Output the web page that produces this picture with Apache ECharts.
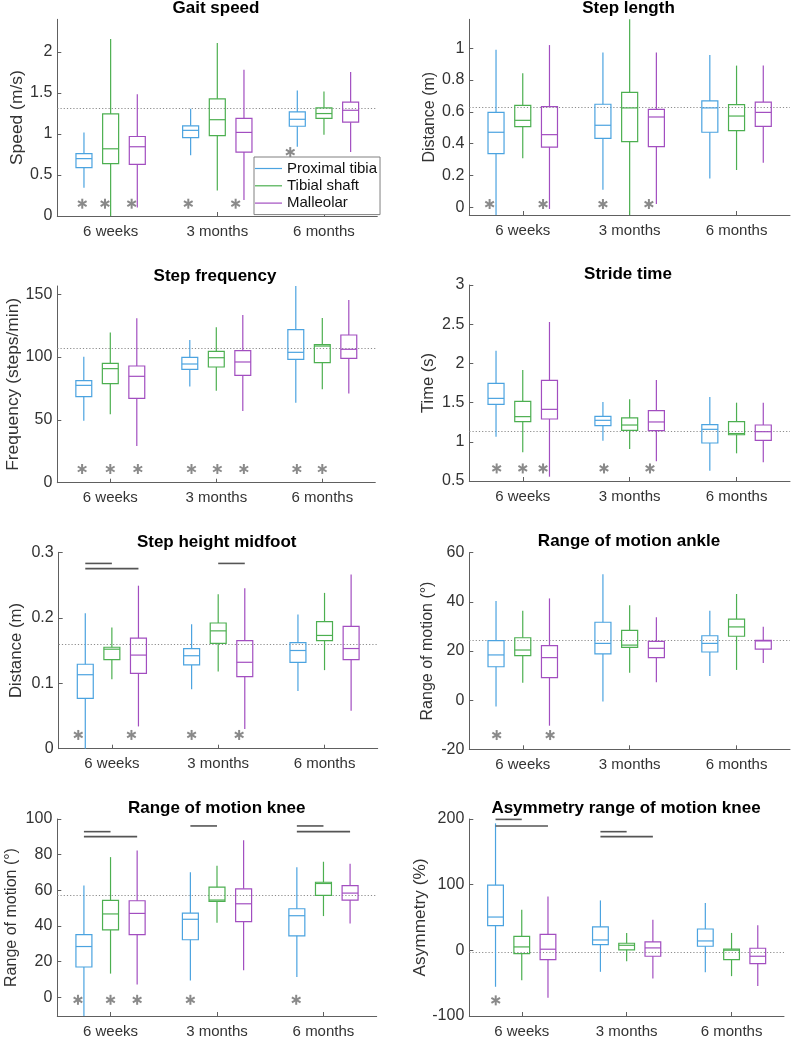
<!DOCTYPE html>
<html><head><meta charset="utf-8">
<script src="https://cdn.jsdelivr.net/npm/echarts@6/dist/echarts.min.js"></script>
<style>html,body{margin:0;padding:0;background:#fff}#chart{width:792px;height:1039px}</style>
</head><body><div id="chart"></div>
<script>
// ---------- data ----------
const categories = ['6 weeks', '3 months', '6 months'];
const groups = ['Proximal tibia', 'Tibial shaft', 'Malleolar'];

// each box: [min, Q1, median, Q3, max]; order: [6 weeks, 3 months, 6 months]
const gaitSpeedProximal = [[0.345, 0.59, 0.70, 0.76, 1.02], [0.74, 0.957, 1.045, 1.10, 1.31], [0.845, 1.095, 1.18, 1.27, 1.53]];
const gaitSpeedShaft    = [[0, 0.64, 0.82, 1.245, 2.16], [0.31, 0.98, 1.175, 1.43, 2.11], [0.99, 1.19, 1.25, 1.32, 1.52]];
const gaitSpeedMalleolar= [[0.105, 0.63, 0.845, 0.97, 1.485], [0.195, 0.78, 1.02, 1.19, 1.785], [0.78, 1.145, 1.29, 1.39, 1.757]];
const gaitSpeedRef = 1.32;
const gaitSpeedTicks = [0, 0.5, 1, 1.5, 2];
// stars: [category, x shift (category units), y]
const gaitSpeedStars = [[0, -0.266, 0.15], [0, -0.053, 0.15], [0, 0.197, 0.15], [1, -0.272, 0.15], [1, 0.172, 0.15], [2, -0.316, 0.78]];
const gaitSpeedBars = [];

const stepLengthProximal = [[-0.048, 0.338, 0.472, 0.597, 0.99], [0.111, 0.434, 0.516, 0.648, 0.973], [0.182, 0.472, 0.625, 0.669, 0.958]];
const stepLengthShaft    = [[0.308, 0.507, 0.547, 0.641, 0.843], [-0.048, 0.413, 0.625, 0.723, 1.182], [0.235, 0.482, 0.574, 0.646, 0.891]];
const stepLengthMalleolar= [[-0.01, 0.379, 0.457, 0.633, 1.02], [0.021, 0.382, 0.568, 0.616, 0.973], [0.281, 0.509, 0.597, 0.662, 0.891]];
const stepLengthRef = 0.633;
const stepLengthTicks = [0, 0.2, 0.4, 0.6, 0.8, 1];
const stepLengthStars = [[0, -0.31, 0.021], [0, 0.19, 0.021], [1, -0.25, 0.021], [1, 0.18, 0.021]];
const stepLengthBars = [];

const stepFreqProximal = [[49.4, 68.5, 77.5, 81.2, 100.3], [76.5, 90.3, 94.5, 99.8, 113.6], [63.7, 98.2, 103.8, 121.8, 156.6]];
const stepFreqShaft    = [[54.4, 78.8, 90.8, 95.0, 119.5], [73.3, 92.1, 99.5, 104.6, 123.7], [74.3, 95.6, 108.8, 109.9, 131.1]];
const stepFreqMalleolar= [[29.2, 67.2, 84.7, 92.9, 130.9], [57.1, 85.5, 96.1, 105.1, 133.5], [71.1, 99.0, 106.2, 117.6, 145.5]];
const stepFreqRef = 106.7;
const stepFreqTicks = [0, 50, 100, 150];
const stepFreqStars = [[0, -0.266, 10.9], [0, 0, 10.9], [0, 0.26, 10.9], [1, -0.234, 10.9], [1, 0.01, 10.9], [1, 0.26, 10.9], [2, -0.24, 10.9], [2, 0, 10.9]];
const stepFreqBars = [];

const strideTimeProximal = [[1.065, 1.478, 1.554, 1.746, 2.162], [1.014, 1.206, 1.274, 1.325, 1.508], [0.632, 0.985, 1.159, 1.219, 1.571]];
const strideTimeShaft    = [[0.866, 1.257, 1.321, 1.516, 1.916], [0.908, 1.146, 1.214, 1.304, 1.542], [0.853, 1.09, 1.105, 1.257, 1.499]];
const strideTimeMalleolar= [[0.555, 1.291, 1.414, 1.784, 2.528], [0.751, 1.142, 1.253, 1.397, 1.788], [0.738, 1.019, 1.129, 1.214, 1.499]];
const strideTimeRef = 1.138;
const strideTimeTicks = [0.5, 1, 1.5, 2, 2.5, 3];
const strideTimeStars = [[0, -0.244, 0.66], [0, 0, 0.66], [0, 0.19, 0.66], [1, -0.24, 0.66], [1, 0.19, 0.66]];
const strideTimeBars = [];

const stepHeightProximal = [[0, 0.077, 0.113, 0.129, 0.207], [0.091, 0.128, 0.142, 0.153, 0.19], [0.088, 0.132, 0.150, 0.162, 0.205]];
const stepHeightShaft    = [[0.106, 0.136, 0.152, 0.155, 0.185], [0.118, 0.161, 0.180, 0.192, 0.236], [0.120, 0.165, 0.173, 0.194, 0.238]];
const stepHeightMalleolar= [[0.034, 0.115, 0.143, 0.169, 0.249], [0.030, 0.110, 0.132, 0.165, 0.245], [0.058, 0.136, 0.153, 0.187, 0.266]];
const stepHeightRef = 0.159;
const stepHeightTicks = [0, 0.1, 0.2, 0.3];
const stepHeightStars = [[0, -0.316, 0.021], [0, 0.184, 0.021], [1, -0.25, 0.021], [1, 0.197, 0.021]];
// bars: [category, from group, to group, y]
const stepHeightBars = [[0, 0, 1, 0.283], [0, 0, 2, 0.275], [1, 1, 2, 0.283]];

const romAnkleProximal = [[-2.6, 13.6, 18.4, 24.2, 40.3], [-0.6, 18.8, 23.1, 31.7, 51.2], [9.8, 19.6, 23.1, 26.2, 36.4]];
const romAnkleShaft    = [[7.1, 18.1, 20.4, 25.4, 36.4], [11.2, 21.5, 22.4, 28.4, 38.6], [12.3, 26.0, 29.8, 33.0, 43.2]];
const romAnkleMalleolar= [[-10.4, 9.2, 17.3, 22.2, 41.4], [7.3, 17.3, 21.1, 23.9, 33.7], [15.1, 20.8, 24.1, 24.3, 29.9]];
const romAnkleRef = 24.2;
const romAnkleTicks = [-20, 0, 20, 40, 60];
const romAnkleStars = [[0, -0.244, -14.2], [0, 0.256, -14.2]];
const romAnkleBars = [];

const romKneeProximal = [[-10.6, 16.9, 28.4, 35.1, 62.6], [9.3, 32.2, 43.7, 47.2, 70.1], [11.3, 34.4, 45.7, 49.6, 72.9]];
const romKneeShaft    = [[13.2, 37.7, 46.7, 54.3, 78.6], [41.8, 53.7, 54.5, 61.7, 73.8], [45.5, 57.1, 63.8, 64.5, 76.0]];
const romKneeMalleolar= [[7.1, 35.1, 47.0, 54.1, 82.3], [15.1, 42.4, 52.4, 60.8, 88.1], [41.3, 54.5, 58.4, 62.6, 74.9]];
const romKneeRef = 57.2;
const romKneeTicks = [0, 20, 40, 60, 80, 100];
const romKneeStars = [[0, -0.306, -1.5], [0, 0, -1.5], [0, 0.25, -1.5], [1, -0.25, -1.5], [2, -0.256, -1.5]];
const romKneeBars = [[0, 0, 1, 92.9], [0, 0, 2, 90.1], [1, 0, 1, 96.1], [2, 0, 1, 96.1], [2, 0, 2, 92.9]];

const asymKneeProximal = [[-55.5, 37.6, 50.7, 99.3, 193.4], [-32.7, 8.8, 15.8, 35.6, 76.0], [-33.2, 6.2, 14.3, 32.5, 72.0]];
const asymKneeShaft    = [[-45.4, -4.9, 5.2, 21.4, 61.9], [-16.5, 0.7, 7.7, 10.8, 26.5], [-39.3, -14.0, 0.2, 1.7, 26.5]];
const asymKneeMalleolar= [[-72.2, -14.0, 1.7, 24.4, 82.1], [-42.8, -9.0, 3.7, 12.8, 46.7], [-54.5, -20.1, -9.0, 3.2, 38.1]];
const asymKneeRef = -2.9;
const asymKneeTicks = [-100, 0, 100, 200];
const asymKneeStars = [[0, -0.248, -76.2]];
const asymKneeBars = [[0, 0, 1, 199.4], [0, 0, 2, 189.3], [1, 0, 1, 180.7], [1, 0, 2, 173.1]];

// ---------- layout / style ----------
const FONT = "'Liberation Sans', Arial, Helvetica, sans-serif";
const COLORS = ['#4ba3e0', '#4caf50', '#a24ec0'];
const AXIS_COLOR = '#606060';

const panels = [
  {title: 'Gait speed', yName: 'Speed (m/s)', boxes: [gaitSpeedProximal, gaitSpeedShaft, gaitSpeedMalleolar], ref: gaitSpeedRef, ticks: gaitSpeedTicks, stars: gaitSpeedStars, bars: gaitSpeedBars,
   yMin: 0, yMax: 2.4, grid: {left: 57.3, top: 19.3, width: 320, height: 196.7}, nameGap: 32, nameSize: 17.4, tx: 216, ty: 8.5},
  {title: 'Step length', yName: 'Distance (m)', boxes: [stepLengthProximal, stepLengthShaft, stepLengthMalleolar], ref: stepLengthRef, ticks: stepLengthTicks, stars: stepLengthStars, bars: stepLengthBars,
   yMin: -0.048, yMax: 1.182, grid: {left: 469.3, top: 19.3, width: 320.7, height: 195.7}, nameGap: 32, nameSize: 16, tx: 628.5, ty: 8.5},
  {title: 'Step frequency', yName: 'Frequency (steps/min)', boxes: [stepFreqProximal, stepFreqShaft, stepFreqMalleolar], ref: stepFreqRef, ticks: stepFreqTicks, stars: stepFreqStars, bars: stepFreqBars,
   yMin: 0, yMax: 156.6, grid: {left: 57.3, top: 286, width: 318, height: 196.7}, nameGap: 34.5, nameSize: 17.4, tx: 215, ty: 276},
  {title: 'Stride time', yName: 'Time (s)', boxes: [strideTimeProximal, strideTimeShaft, strideTimeMalleolar], ref: strideTimeRef, ticks: strideTimeTicks, stars: strideTimeStars, bars: strideTimeBars,
   yMin: 0.5, yMax: 3, grid: {left: 469.3, top: 285, width: 320.7, height: 196}, nameGap: 32, nameSize: 16.5, tx: 628, ty: 274},
  {title: 'Step height midfoot', yName: 'Distance (m)', boxes: [stepHeightProximal, stepHeightShaft, stepHeightMalleolar], ref: stepHeightRef, ticks: stepHeightTicks, stars: stepHeightStars, bars: stepHeightBars,
   yMin: 0, yMax: 0.3, grid: {left: 58.7, top: 552.3, width: 319, height: 196.4}, nameGap: 33.5, nameSize: 16.8, tx: 216.7, ty: 542.3},
  {title: 'Range of motion ankle', yName: 'Range of motion (°)', boxes: [romAnkleProximal, romAnkleShaft, romAnkleMalleolar], ref: romAnkleRef, ticks: romAnkleTicks, stars: romAnkleStars, bars: romAnkleBars,
   yMin: -20, yMax: 60, grid: {left: 469.3, top: 552.7, width: 320.7, height: 196.6}, nameGap: 34, nameSize: 16, tx: 629, ty: 541.5},
  {title: 'Range of motion knee', yName: 'Range of motion (°)', boxes: [romKneeProximal, romKneeShaft, romKneeMalleolar], ref: romKneeRef, ticks: romKneeTicks, stars: romKneeStars, bars: romKneeBars,
   yMin: -10.6, yMax: 100, grid: {left: 57.3, top: 819, width: 319.4, height: 198.3}, nameGap: 37.5, nameSize: 16, tx: 216.7, ty: 808.3},
  {title: 'Asymmetry range of motion knee', yName: 'Asymmetry (%)', boxes: [asymKneeProximal, asymKneeShaft, asymKneeMalleolar], ref: asymKneeRef, ticks: asymKneeTicks, stars: asymKneeStars, bars: asymKneeBars,
   yMin: -100, yMax: 200, grid: {left: 469.3, top: 819, width: 314.7, height: 197.7}, nameGap: 38.5, nameSize: 17.3, tx: 626, ty: 808.3}
];

function boxRenderer(offset, color) {
  return function (params, api) {
    const cat = api.value(0);
    const band = api.size([1, 0])[0];
    const x = api.coord([cat, 0])[0] + offset * band;
    const w = band * 0.15;
    const yv = k => api.coord([cat, api.value(k)])[1];
    const yMin = yv(1), q1 = yv(2), med = yv(3), q3 = yv(4), yMax = yv(5);
    const st = {stroke: color, lineWidth: 1.2, fill: 'none'};
    return {type: 'group', children: [
      {type: 'line', shape: {x1: x, y1: yMin, x2: x, y2: q1}, style: st},
      {type: 'line', shape: {x1: x, y1: q3, x2: x, y2: yMax}, style: st},
      {type: 'rect', shape: {x: x - w / 2, y: q3, width: w, height: q1 - q3}, style: st},
      {type: 'line', shape: {x1: x - w / 2, y1: med, x2: x + w / 2, y2: med}, style: st}
    ]};
  };
}

function starRenderer(params, api) {
  const band = api.size([1, 0])[0];
  const p = api.coord([api.value(0), api.value(2)]);
  const x = p[0] + api.value(1) * band, y = p[1];
  const r = 5, dx = r * 0.866, dy = r * 0.5;
  const st = {stroke: '#8a8a8a', lineWidth: 2, fill: 'none'};
  return {type: 'group', children: [
    {type: 'line', shape: {x1: x, y1: y - r, x2: x, y2: y + r}, style: st},
    {type: 'line', shape: {x1: x - dx, y1: y - dy, x2: x + dx, y2: y + dy}, style: st},
    {type: 'line', shape: {x1: x - dx, y1: y + dy, x2: x + dx, y2: y - dy}, style: st}
  ]};
}

function barRenderer(params, api) {
  const band = api.size([1, 0])[0];
  const p = api.coord([api.value(0), api.value(3)]);
  const x1 = p[0] + (api.value(1) - 1) * 0.25 * band;
  const x2 = p[0] + (api.value(2) - 1) * 0.25 * band;
  return {type: 'line', shape: {x1: x1, y1: p[1], x2: x2, y2: p[1]}, style: {stroke: '#555', lineWidth: 1.6, fill: 'none'}};
}

const grid = [], xAxis = [], yAxis = [], series = [], graphic = [];
panels.forEach((p, i) => {
  grid.push(Object.assign({containLabel: false}, p.grid));
  xAxis.push({
    gridIndex: i, type: 'category', data: categories, boundaryGap: true,
    axisLine: {show: true, onZero: false, lineStyle: {color: AXIS_COLOR, width: 1}},
    axisTick: {show: true, alignWithLabel: true, inside: true, length: 4, lineStyle: {color: AXIS_COLOR}},
    axisLabel: {color: '#333', fontSize: 15, fontFamily: FONT, margin: 8},
    splitLine: {show: false}
  });
  const step = p.ticks[1] - p.ticks[0];
  yAxis.push({
    gridIndex: i, type: 'value', min: p.yMin, max: p.yMax, interval: step,
    name: p.yName, nameLocation: 'middle', nameGap: p.nameGap, nameRotate: 90,
    nameTextStyle: {fontSize: p.nameSize, color: '#333', fontFamily: FONT},
    axisLine: {show: true, onZero: false, lineStyle: {color: AXIS_COLOR, width: 1}},
    axisTick: {show: true, inside: true, length: 4, customValues: p.ticks, lineStyle: {color: AXIS_COLOR}},
    axisLabel: {show: true, customValues: p.ticks, fontSize: 16, color: '#333', fontFamily: FONT, margin: 5,
                showMinLabel: true, showMaxLabel: true, formatter: v => String(+v.toFixed(3))},
    splitLine: {show: false}
  });
  p.boxes.forEach((arr, g) => {
    const s = {
      type: 'custom', name: groups[g], xAxisIndex: i, yAxisIndex: i,
      itemStyle: {color: COLORS[g]},
      encode: {x: 0, y: [1, 2, 3, 4, 5]},
      renderItem: boxRenderer((g - 1) * 0.25, COLORS[g]),
      data: arr.map((b, c) => [c].concat(b)),
      z: 3
    };
    if (g === 0) {
      s.markLine = {silent: true, symbol: ['none', 'none'], label: {show: false},
        lineStyle: {type: [1.2, 2], color: '#8c8c8c', width: 1}, emphasis: {disabled: true},
        data: [{yAxis: p.ref}], z: 1};
    }
    series.push(s);
  });
  if (p.stars.length) series.push({type: 'custom', name: 'stars' + i, xAxisIndex: i, yAxisIndex: i,
    encode: {x: 0, y: 2}, renderItem: starRenderer, data: p.stars, z: 4});
  if (p.bars.length) series.push({type: 'custom', name: 'bars' + i, xAxisIndex: i, yAxisIndex: i,
    encode: {x: 0, y: 3}, renderItem: barRenderer, data: p.bars, z: 4});
  graphic.push({type: 'text', x: p.tx, y: p.ty, z: 10,
    style: {text: p.title, font: 'bold 17px ' + FONT, fill: '#000', align: 'center', verticalAlign: 'middle'}});
});

const chart = echarts.init(document.getElementById('chart'), null, {renderer: 'canvas'});
chart.setOption({
  animation: false,
  backgroundColor: '#fff',
  grid: grid, xAxis: xAxis, yAxis: yAxis, series: series, graphic: graphic,
  legend: {
    data: groups, orient: 'vertical', left: 254, top: 157, icon: 'rect',
    itemWidth: 27, itemHeight: 1.2, itemGap: 2.3, padding: [4, 3, 4, 1],
    borderColor: '#808080', borderWidth: 1, backgroundColor: '#fff',
    textStyle: {fontSize: 15, color: '#111', fontFamily: FONT, lineHeight: 15},
    selectedMode: false
  }
});
</script>
</body></html>
